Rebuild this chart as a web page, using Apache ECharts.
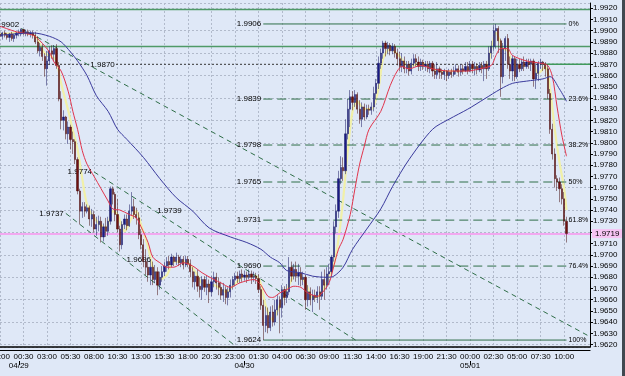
<!DOCTYPE html>
<html><head><meta charset="utf-8">
<script src="https://cdn.jsdelivr.net/npm/echarts@6/dist/echarts.min.js"></script>
<style>html,body{margin:0;padding:0;background:#dfe8f7}#c{width:625px;height:376px}</style>
</head><body><div id="c"></div>
<script>
// ---------- DATA ----------
// 15-minute bars, index 0 = 04/28 22:00
const BAR_COUNT_AXIS = 252;
const timeLabels = ['22:00','00:30','03:00','05:30','08:00','10:30','13:00','15:30','18:00','20:30','23:00','01:30','04:00','06:30','09:00','11:30','14:00','16:30','19:00','21:30','00:00','02:30','05:00','07:30','10:00'];
const dateLabelIdx = [8, 104, 200];
const dateLabels = ['04/29', '04/30', '05/01'];

const open = [
1.9897,1.9895,1.9898,1.9896,1.9894,1.9897,1.9893,1.9896,1.9898,1.9897,
1.9901,1.9898,1.9899,1.9897,1.9898,1.9896,1.9890,1.9882,1.9885,1.9877,
1.9866,1.9873,1.9882,1.9879,1.9884,1.9869,1.9839,1.9820,1.9823,1.9808,
1.9814,1.9803,1.9801,1.9785,1.9757,1.9739,1.9743,1.9739,1.9742,1.9732,
1.9736,1.9723,1.9727,1.9730,1.9716,1.9725,1.9721,1.9730,1.9759,1.9754,
1.9736,1.9723,1.9709,1.9727,1.9732,1.9726,1.9739,1.9743,1.9736,1.9733,
1.9718,1.9709,1.9694,1.9689,1.9682,1.9689,1.9678,1.9685,1.9673,1.9680,
1.9685,1.9690,1.9694,1.9691,1.9698,1.9694,1.9698,1.9693,1.9696,1.9691,
1.9696,1.9692,1.9685,1.9676,1.9681,1.9672,1.9669,1.9678,1.9671,1.9674,
1.9667,1.9676,1.9680,1.9675,1.9671,1.9664,1.9669,1.9662,1.9667,1.9673,
1.9678,1.9681,1.9679,1.9683,1.9680,1.9682,1.9680,1.9683,1.9680,1.9681,
1.9679,1.9669,1.9655,1.9637,1.9646,1.9635,1.9649,1.9640,1.9651,1.9660,
1.9653,1.9669,1.9662,1.9667,1.9689,1.9681,1.9687,1.9681,1.9684,1.9678,
1.9680,1.9660,1.9667,1.9660,1.9664,1.9662,1.9667,1.9663,1.9678,1.9673,
1.9683,1.9685,1.9698,1.9725,1.9739,1.9768,1.9778,1.9775,1.9808,1.9830,
1.9841,1.9836,1.9843,1.9830,1.9821,1.9832,1.9823,1.9830,1.9829,1.9832,
1.9844,1.9853,1.9871,1.9880,1.9889,1.9884,1.9887,1.9882,1.9886,1.9880,
1.9875,1.9868,1.9873,1.9866,1.9870,1.9864,1.9871,1.9875,1.9872,1.9868,
1.9872,1.9868,1.9870,1.9866,1.9871,1.9864,1.9861,1.9866,1.9863,1.9861,
1.9864,1.9860,1.9863,1.9861,1.9864,1.9866,1.9863,1.9866,1.9864,1.9868,
1.9864,1.9870,1.9866,1.9868,1.9865,1.9869,1.9866,1.9870,1.9866,1.9880,
1.9886,1.9900,1.9902,1.9891,1.9859,1.9884,1.9893,1.9870,1.9864,1.9875,
1.9859,1.9870,1.9866,1.9872,1.9868,1.9872,1.9870,1.9873,1.9857,1.9862,
1.9871,1.9872,1.9870,1.9866,1.9844,1.9812,1.9790,1.9768,1.9765,1.9759,
1.9750,1.9730];
const close = [
1.9895,1.9898,1.9896,1.9894,1.9897,1.9893,1.9896,1.9898,1.9899,1.9901,
1.9898,1.9899,1.9897,1.9898,1.9896,1.9890,1.9882,1.9885,1.9877,1.9866,
1.9873,1.9882,1.9879,1.9884,1.9869,1.9839,1.9820,1.9823,1.9808,1.9814,
1.9803,1.9801,1.9785,1.9757,1.9739,1.9743,1.9739,1.9742,1.9732,1.9736,
1.9723,1.9727,1.9730,1.9716,1.9725,1.9721,1.9730,1.9759,1.9754,1.9736,
1.9723,1.9709,1.9727,1.9732,1.9726,1.9739,1.9743,1.9736,1.9733,1.9718,
1.9709,1.9694,1.9689,1.9682,1.9689,1.9678,1.9685,1.9673,1.9680,1.9685,
1.9690,1.9694,1.9691,1.9698,1.9694,1.9698,1.9693,1.9696,1.9691,1.9696,
1.9692,1.9685,1.9676,1.9681,1.9672,1.9669,1.9678,1.9671,1.9674,1.9667,
1.9676,1.9680,1.9675,1.9671,1.9664,1.9669,1.9662,1.9667,1.9673,1.9678,
1.9681,1.9679,1.9683,1.9680,1.9682,1.9680,1.9683,1.9680,1.9681,1.9679,
1.9669,1.9655,1.9637,1.9646,1.9635,1.9649,1.9640,1.9651,1.9660,1.9653,
1.9669,1.9662,1.9667,1.9689,1.9681,1.9687,1.9681,1.9684,1.9678,1.9680,
1.9660,1.9667,1.9660,1.9664,1.9662,1.9667,1.9663,1.9678,1.9673,1.9683,
1.9685,1.9698,1.9725,1.9739,1.9768,1.9778,1.9775,1.9808,1.9830,1.9841,
1.9836,1.9843,1.9830,1.9821,1.9832,1.9823,1.9830,1.9829,1.9832,1.9844,
1.9853,1.9871,1.9880,1.9889,1.9884,1.9887,1.9882,1.9886,1.9880,1.9875,
1.9868,1.9873,1.9866,1.9870,1.9864,1.9871,1.9875,1.9872,1.9868,1.9872,
1.9868,1.9870,1.9866,1.9871,1.9864,1.9861,1.9866,1.9863,1.9861,1.9864,
1.9860,1.9863,1.9861,1.9864,1.9866,1.9863,1.9866,1.9864,1.9868,1.9864,
1.9870,1.9866,1.9868,1.9865,1.9869,1.9866,1.9870,1.9866,1.9880,1.9886,
1.9900,1.9902,1.9891,1.9859,1.9884,1.9893,1.9870,1.9864,1.9875,1.9859,
1.9870,1.9866,1.9872,1.9868,1.9872,1.9870,1.9873,1.9857,1.9862,1.9871,
1.9872,1.9870,1.9866,1.9844,1.9812,1.9790,1.9768,1.9765,1.9759,1.9750,
1.9730,1.9719];
const high = [
1.9899,1.9899,1.9900,1.9898,1.9898,1.9899,1.9897,1.9899,1.9901,1.9902,
1.9901,1.9901,1.9901,1.9900,1.9900,1.9899,1.9895,1.9889,1.9888,1.9880,
1.9882,1.9886,1.9887,1.9887,1.9888,1.9872,1.9846,1.9829,1.9824,1.9819,
1.9816,1.9810,1.9803,1.9787,1.9759,1.9747,1.9747,1.9745,1.9744,1.9741,
1.9739,1.9734,1.9735,1.9734,1.9728,1.9733,1.9734,1.9761,1.9761,1.9756,
1.9750,1.9726,1.9730,1.9736,1.9736,1.9745,1.9756,1.9750,1.9742,1.9738,
1.9723,1.9714,1.9705,1.9694,1.9696,1.9694,1.9691,1.9689,1.9685,1.9690,
1.9694,1.9698,1.9699,1.9701,1.9699,1.9702,1.9700,1.9699,1.9699,1.9699,
1.9699,1.9696,1.9689,1.9685,1.9687,1.9680,1.9681,1.9681,1.9682,1.9678,
1.9681,1.9685,1.9684,1.9680,1.9676,1.9675,1.9672,1.9671,1.9678,1.9681,
1.9684,1.9685,1.9686,1.9687,1.9686,1.9685,1.9687,1.9686,1.9685,1.9684,
1.9683,1.9672,1.9660,1.9654,1.9653,1.9654,1.9655,1.9660,1.9664,1.9663,
1.9673,1.9672,1.9674,1.9698,1.9694,1.9692,1.9694,1.9692,1.9689,1.9685,
1.9682,1.9673,1.9671,1.9669,1.9669,1.9672,1.9672,1.9685,1.9687,1.9689,
1.9692,1.9700,1.9730,1.9745,1.9775,1.9788,1.9787,1.9821,1.9839,1.9847,
1.9846,1.9847,1.9845,1.9838,1.9836,1.9835,1.9834,1.9834,1.9836,1.9850,
1.9857,1.9877,1.9884,1.9891,1.9891,1.9890,1.9889,1.9889,1.9888,1.9884,
1.9881,1.9880,1.9877,1.9873,1.9873,1.9875,1.9879,1.9879,1.9877,1.9875,
1.9874,1.9873,1.9873,1.9873,1.9873,1.9870,1.9872,1.9868,1.9866,1.9866,
1.9865,1.9866,1.9866,1.9868,1.9870,1.9869,1.9870,1.9870,1.9872,1.9872,
1.9873,1.9873,1.9872,1.9871,1.9872,1.9872,1.9873,1.9873,1.9886,1.9891,
1.9905,1.9906,1.9904,1.9893,1.9889,1.9895,1.9897,1.9877,1.9878,1.9877,
1.9875,1.9875,1.9875,1.9877,1.9875,1.9875,1.9875,1.9875,1.9871,1.9873,
1.9875,1.9873,1.9872,1.9870,1.9848,1.9817,1.9795,1.9771,1.9769,1.9763,
1.9756,1.9734];
const low = [
1.9893,1.9892,1.9894,1.9892,1.9890,1.9891,1.9890,1.9893,1.9895,1.9895,
1.9896,1.9895,1.9895,1.9894,1.9893,1.9888,1.9880,1.9877,1.9873,1.9859,
1.9851,1.9870,1.9875,1.9873,1.9866,1.9837,1.9812,1.9811,1.9803,1.9799,
1.9794,1.9790,1.9781,1.9754,1.9727,1.9733,1.9734,1.9737,1.9726,1.9725,
1.9720,1.9717,1.9721,1.9711,1.9712,1.9716,1.9717,1.9727,1.9745,1.9730,
1.9720,1.9703,1.9705,1.9723,1.9722,1.9725,1.9735,1.9732,1.9727,1.9714,
1.9705,1.9689,1.9682,1.9676,1.9673,1.9673,1.9675,1.9664,1.9669,1.9676,
1.9681,1.9685,1.9687,1.9689,1.9690,1.9691,1.9690,1.9689,1.9687,1.9689,
1.9689,1.9680,1.9671,1.9669,1.9667,1.9662,1.9660,1.9667,1.9664,1.9657,
1.9663,1.9671,1.9669,1.9664,1.9660,1.9658,1.9656,1.9655,1.9662,1.9669,
1.9672,1.9675,1.9675,1.9676,1.9677,1.9675,1.9678,1.9674,1.9676,1.9674,
1.9666,1.9651,1.9624,1.9631,1.9630,1.9632,1.9636,1.9637,1.9646,1.9630,
1.9644,1.9655,1.9657,1.9664,1.9676,1.9678,1.9676,1.9673,1.9672,1.9673,
1.9651,1.9654,1.9655,1.9649,1.9658,1.9657,1.9651,1.9660,1.9660,1.9669,
1.9673,1.9681,1.9694,1.9719,1.9733,1.9763,1.9766,1.9772,1.9803,1.9814,
1.9829,1.9832,1.9826,1.9817,1.9814,1.9820,1.9821,1.9825,1.9825,1.9828,
1.9839,1.9848,1.9866,1.9875,1.9877,1.9879,1.9878,1.9879,1.9876,1.9869,
1.9864,1.9863,1.9862,1.9862,1.9860,1.9861,1.9868,1.9868,1.9864,1.9864,
1.9865,1.9864,1.9863,1.9862,1.9859,1.9857,1.9857,1.9857,1.9857,1.9856,
1.9855,1.9857,1.9858,1.9859,1.9861,1.9859,1.9860,1.9861,1.9863,1.9861,
1.9863,1.9862,1.9860,1.9861,1.9863,1.9862,1.9855,1.9857,1.9864,1.9875,
1.9882,1.9884,1.9880,1.9841,1.9853,1.9873,1.9866,1.9857,1.9855,1.9855,
1.9857,1.9863,1.9864,1.9864,1.9866,1.9866,1.9864,1.9850,1.9848,1.9855,
1.9866,1.9864,1.9859,1.9839,1.9808,1.9785,1.9760,1.9757,1.9747,1.9745,
1.9726,1.9711];

// moving averages: [bar index, price]
const redMA = [[0,1.9904],[7,1.9899],[14,1.9896],[17,1.9891],[21,1.9881],[23,1.9872],[26,1.9864],[29,1.9846],[31,1.9828],[33,1.9812],[35,1.9793],[37,1.9781],[40,1.9770],[43,1.9759],[46,1.9748],[48,1.9741],[51,1.9740],[55,1.9736],[58,1.9733],[60,1.9725],[63,1.9711],[65,1.9698],[68,1.9693],[71,1.9689],[74,1.9689],[78,1.9693],[82,1.9690],[86,1.9684],[91,1.9678],[94,1.9675],[98,1.9671],[102,1.9675],[108,1.9678],[111,1.9673],[114,1.9663],[116,1.9662],[119,1.9666],[122,1.9669],[125,1.9672],[128,1.9671],[131,1.9666],[135,1.9663],[137,1.9666],[140,1.9675],[142,1.9690],[144,1.9705],[146,1.9714],[149,1.9736],[151,1.9759],[153,1.9781],[155,1.9797],[157,1.9812],[162,1.9828],[166,1.9851],[169,1.9864],[171,1.9868],[174,1.9866],[179,1.9869],[184,1.9866],[191,1.9864],[199,1.9864],[204,1.9866],[209,1.9869],[211,1.9878],[213,1.9884],[216,1.9884],[218,1.9878],[224,1.9873],[230,1.9871],[233,1.9869],[235,1.9859],[237,1.9832],[239,1.9807],[241,1.9788]];
const blueMA = [[0,1.9896],[14,1.9898],[21,1.9895],[26,1.9890],[30,1.9881],[33,1.9873],[37,1.9860],[41,1.9842],[46,1.9828],[50,1.9812],[54,1.9803],[61,1.9787],[68,1.9768],[75,1.9751],[82,1.9739],[89,1.9724],[98,1.9716],[105,1.9711],[111,1.9705],[115,1.9698],[119,1.9693],[122,1.9686],[128,1.9684],[133,1.9681],[139,1.9680],[142,1.9681],[146,1.9689],[150,1.9705],[156,1.9723],[162,1.9741],[167,1.9761],[174,1.9785],[184,1.9812],[191,1.9821],[199,1.9830],[206,1.9839],[213,1.9848],[218,1.9853],[224,1.9855],[231,1.9857],[234,1.9859],[238,1.9848],[241,1.9837]];
const yellowMA = [[0,1.9897],[9,1.9898],[15,1.9895],[19,1.9880],[22,1.9877],[24,1.9873],[26,1.9853],[29,1.9829],[31,1.9811],[33,1.9794],[35,1.9768],[37,1.9745],[40,1.9733],[45,1.9724],[48,1.9739],[50,1.9736],[53,1.9721],[56,1.9733],[58,1.9739],[60,1.9727],[63,1.9707],[65,1.9689],[68,1.9678],[71,1.9682],[74,1.9694],[79,1.9694],[83,1.9685],[87,1.9673],[91,1.9673],[96,1.9667],[100,1.9674],[104,1.9681],[109,1.9681],[111,1.9674],[113,1.9655],[116,1.9642],[119,1.9655],[123,1.9673],[126,1.9684],[130,1.9675],[133,1.9662],[136,1.9664],[139,1.9676],[142,1.9691],[144,1.9714],[146,1.9750],[148,1.9794],[150,1.9828],[152,1.9837],[155,1.9830],[158,1.9830],[161,1.9848],[163,1.9875],[166,1.9884],[170,1.9877],[174,1.9868],[179,1.9871],[187,1.9864],[196,1.9864],[204,1.9868],[207,1.9868],[209,1.9884],[211,1.9898],[214,1.9884],[216,1.9882],[218,1.9871],[221,1.9868],[226,1.9871],[229,1.9862],[232,1.9868],[234,1.9848],[236,1.9812],[238,1.9783],[240,1.9759],[241,1.9740]];

// Fibonacci retracement (drawn from bar 112 to bar 241)
const fibFrom = 112, fibTo = 241;
const fibLevels = [1.9906, 1.9839, 1.9798, 1.9765, 1.9731, 1.9690, 1.9624];
const fibNames = ['0%', '23.6%', '38.2%', '50%', '61.8%', '76.4%', '100%'];
const fibSolid = [true, false, false, false, false, false, true];

// trend lines: anchor points [bar, price] and their labels
const trendLines = [
  { pts: [[9, 1.9902], [251, 1.9627]], labels: ['1.9902', null] },
  { pts: [[40, 1.9774], [66, 1.9739], [152, 1.9623]], labels: ['1.9774', '1.9739', null] },
  { pts: [[28, 1.9737], [53, 1.9696], [100, 1.9619]], labels: ['1.9737', '1.9696', null] }
];
// horizontal lines
const greenLevels = [1.9919, 1.9886];
const dottedLevel = 1.9870, dottedLabelBar = 38;
const greenSegment = { from: 231, to: 251, price: 1.9870 };
const lastPrice = 1.9719;
const hiddenYLabels = ['1.9720'];

const Y_MIN = 1.96178, Y_MAX = 1.99247;

// ---------- CHART ----------
const FONT = '"Liberation Sans",Arial,sans-serif';
const FS = 8;
const BG = '#dfe8f7';
const FIB_COLOR = '#2f6e48';
const cats = [];
{
  const t0 = Date.UTC(2008, 3, 28, 22, 0);
  for (let i = 0; i < BAR_COUNT_AXIS; i++) {
    const d = new Date(t0 + i * 15 * 60000);
    const p = n => String(n).padStart(2, '0');
    cats.push(p(d.getUTCMonth() + 1) + '/' + p(d.getUTCDate()) + ' ' + p(d.getUTCHours()) + ':' + p(d.getUTCMinutes()));
  }
}
const candles = open.map((o, i) => [o, close[i], low[i], high[i]]);

const lbl = (text, position, extra) => Object.assign({
  show: true, formatter: text, position: position, distance: 2,
  color: '#000', fontSize: FS, fontFamily: FONT
}, extra || {});

function lineSeries(points, labels, style, z, extra) {
  return Object.assign({
    type: 'line', silent: true, z: z || 5, symbol: 'circle', symbolSize: 0, showSymbol: true,
    lineStyle: style, itemStyle: { color: style.color },
    data: points.map((p, k) => {
      const item = { value: p };
      if (labels && labels[k]) item.label = labels[k];
      else item.label = { show: false };
      return item;
    }),
    emphasis: { disabled: true }
  }, extra || {});
}

const series = [];
// yellow MA, carrying the last-price line and its axis tag
series.push({ type: 'line', data: yellowMA, showSymbol: false, smooth: 0.3, silent: true, z: 2,
  lineStyle: { color: '#f1f0a8', width: 2.2 },
  markLine: { silent: true, symbol: 'none', animation: false, precision: 4,
    lineStyle: { color: '#f2a8f0', width: 2, type: 'solid' },
    data: [{ yAxis: lastPrice }],
    label: { show: true, position: 'end', distance: 2, formatter: lastPrice.toFixed(4),
      backgroundColor: '#f6c4f4', padding: [1, 3, 0, 3], color: '#000', fontSize: FS, fontFamily: FONT },
    emphasis: { disabled: true } } });
// full width horizontals
greenLevels.forEach(v => series.push(lineSeries([[0, v], [251, v]], null, { color: '#4f9a68', width: 1.5 }, 3)));
series.push(lineSeries([[0, dottedLevel], [dottedLabelBar, dottedLevel], [251, dottedLevel]],
  [null, lbl(dottedLevel.toFixed(4), 'right', { backgroundColor: BG, padding: [0, 1], distance: 0 }), null],
  { color: '#333', width: 1, type: [2, 2] }, 3));
series.push(lineSeries([[greenSegment.from, greenSegment.price], [greenSegment.to, greenSegment.price]], null,
  { color: '#3f9a5c', width: 1.5 }, 4));
// fib
fibLevels.forEach((v, k) => {
  series.push(lineSeries([[fibFrom, v], [fibTo, v]],
    [lbl(v.toFixed(4), 'left'), lbl(fibNames[k], 'right', { fontSize: 7 })],
    { color: FIB_COLOR, width: 1, type: fibSolid[k] ? 'solid' : [9, 5] }, 4));
});
// trend lines
trendLines.forEach(t => {
  series.push(lineSeries(t.pts, t.labels.map((s, k) => s ? lbl(s, k === 0 ? 'left' : 'right', k === 0 && t.pts.length === 2 ? { offset: [0, -4] } : {}) : null),
    { color: FIB_COLOR, width: 1, type: [5, 4] }, 4));
});
series.push({ type: 'candlestick', data: candles, barWidth: 1.7, silent: true, z: 6,
  itemStyle: { color: '#1a1a86', color0: '#701010', borderColor: '#14145e', borderColor0: '#420a0a', borderWidth: 0.5 } });
series.push({ type: 'line', data: redMA, showSymbol: false, smooth: 0.3, silent: true, z: 7,
  lineStyle: { color: '#e0344c', width: 1 } });
series.push({ type: 'line', data: blueMA, showSymbol: false, smooth: 0.3, silent: true, z: 7,
  lineStyle: { color: '#3a3a9c', width: 1 } });

const chart = echarts.init(document.getElementById('c'), null, { renderer: 'canvas' });
chart.setOption({
  animation: false,
  backgroundColor: BG,
  grid: { left: 0, right: 35, top: 3, bottom: 29, containLabel: false, outerBoundsMode: 'none' },
  xAxis: [{
    type: 'category', data: cats, boundaryGap: false,
    axisLine: { lineStyle: { color: '#000', width: 1.5 } },
    axisTick: { show: false },
    axisLabel: { interval: i => i % 10 === 0 && i / 10 < timeLabels.length,
      formatter: (v, i) => timeLabels[i / 10] || '', color: '#000', fontSize: FS, fontFamily: FONT, margin: 6 },
    splitLine: { show: true, lineStyle: { color: '#b1bacb', type: [2, 2] } }
  }, {
    type: 'category', data: cats, boundaryGap: false, position: 'bottom', offset: 14,
    axisLine: { show: false },
    axisTick: { show: true, interval: i => dateLabelIdx.includes(i), length: 4, lineStyle: { color: '#000' } },
    axisLabel: { interval: i => dateLabelIdx.includes(i),
      formatter: (v, i) => dateLabels[dateLabelIdx.indexOf(i)] || '', color: '#000', fontSize: FS, fontFamily: FONT, margin: 1 },
    splitLine: { show: false }
  }, {
    type: 'category', data: cats, boundaryGap: false, position: 'bottom', offset: 3,
    axisLine: { show: true, lineStyle: { color: '#000', width: 1.2 } },
    axisTick: { show: false }, axisLabel: { show: false }, splitLine: { show: false }
  }],
  yAxis: [{
    type: 'value', position: 'right', min: Y_MIN, max: Y_MAX, splitNumber: 30,
    axisLine: { show: true, lineStyle: { color: '#000' } },
    axisTick: { show: true, length: 3, lineStyle: { color: '#000' } },
    axisLabel: { showMinLabel: false, showMaxLabel: false, margin: 3, color: '#000', fontSize: FS, fontFamily: FONT,
      formatter: v => { const s = v.toFixed(4); return hiddenYLabels.includes(s) ? '' : s; } },
    splitLine: { show: false }
  }, {
    type: 'value', position: 'right', min: Y_MIN, max: Y_MAX, splitNumber: 15,
    axisLine: { show: false }, axisTick: { show: false }, axisLabel: { show: false },
    splitLine: { show: true, lineStyle: { color: '#b1bacb', type: [2, 2] } }
  }],
  graphic: [
    { type: 'rect', z: 100, shape: { x: 591, y: 348, width: 31, height: 28 }, style: { fill: BG } },
    { type: 'rect', z: 100, shape: { x: 622, y: 0, width: 3, height: 376 }, style: { fill: '#404850' } }
  ],
  series: series
});
</script>
</body></html>
